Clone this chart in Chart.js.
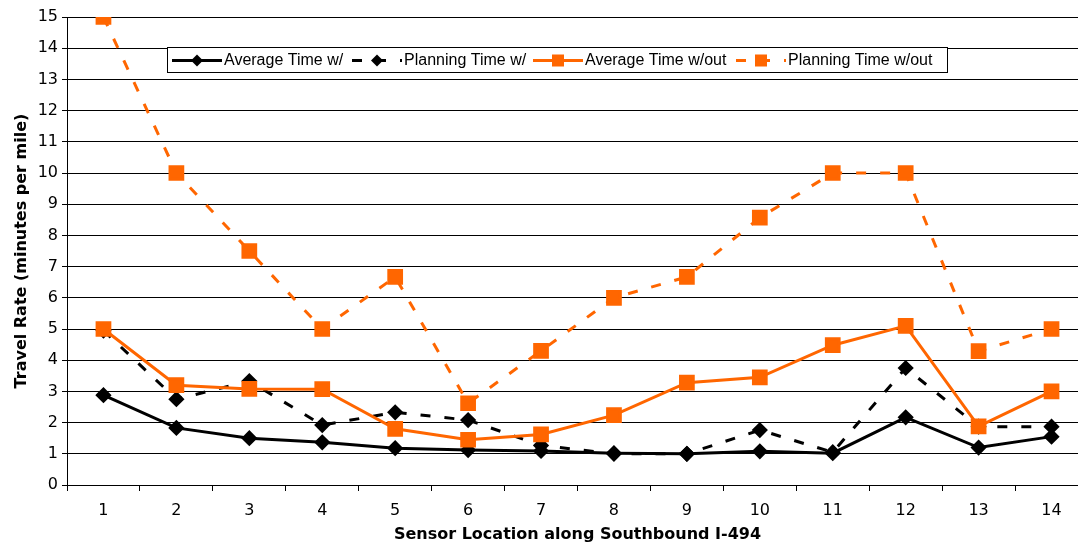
<!DOCTYPE html>
<html>
<head>
<meta charset="utf-8">
<script src="https://cdn.jsdelivr.net/npm/chart.js@4/dist/chart.umd.min.js"></script>
<style>
	html, body { margin: 0; padding: 0; background: #fff; overflow: hidden; }
	#wrap { width: 1100px; height: 544px; }
</style>
</head>
<body>
<div id="wrap"><canvas id="travel-chart" width="1100" height="544"></canvas></div>
<script>
const sensors = ['1', '2', '3', '4', '5', '6', '7', '8', '9', '10', '11', '12', '13', '14'];
const avgWith = [2.88, 1.83, 1.5, 1.37, 1.18, 1.12, 1.09, 1.02, 1.0, 1.08, 1.02, 2.17, 1.2, 1.55];
const planWith = [4.95, 2.75, 3.33, 1.92, 2.33, 2.08, 1.27, 1.0, 1.0, 1.76, 1.05, 3.75, 1.87, 1.87];
const avgWithout = [5.0, 3.2, 3.08, 3.07, 1.8, 1.45, 1.62, 2.24, 3.28, 3.45, 4.48, 5.1, 1.88, 3.0];
const planWithout = [15, 10, 7.5, 5, 6.67, 2.62, 4.3, 6.0, 6.67, 8.57, 10, 10, 4.29, 5];
const yTicks = [0, 1, 2, 3, 4, 5, 6, 7, 8, 9, 10, 11, 12, 13, 14, 15];

const orange = '#FF6600';
const axisFont = '"DejaVu Sans", Verdana, sans-serif';

// legend drawn by hand, so that each entry shows line + marker like the original
const boxLegend = {
	id: 'boxLegend',
	afterDraw(chart) {
		const ctx = chart.ctx;
		const x0 = 167, y0 = 47, w = 780, h = 25;
		ctx.save();
		ctx.fillStyle = '#fff';
		ctx.fillRect(x0, y0, w, h);
		ctx.strokeStyle = '#000';
		ctx.lineWidth = 1;
		ctx.strokeRect(x0 + 0.5, y0 + 0.5, w, h);
		ctx.font = '16px "Liberation Sans", Arial, sans-serif';
		ctx.textBaseline = 'middle';
		const starts = [172, 352, 533, 736];
		const cy = y0 + h / 2 + 1;
		chart.data.datasets.forEach((ds, i) => {
			const sx = starts[i];
			ctx.strokeStyle = ds.borderColor;
			ctx.lineWidth = 3;
			ctx.setLineDash(ds.borderDash || []);
			ctx.beginPath();
			ctx.moveTo(sx, cy);
			ctx.lineTo(sx + 50, cy);
			ctx.stroke();
			ctx.setLineDash([]);
			ctx.fillStyle = ds.pointBackgroundColor;
			const mx = sx + 25;
			if (ds.pointStyle === 'rect') {
				ctx.fillRect(mx - 6, cy - 6, 12, 12);
			} else {
				ctx.beginPath();
				ctx.moveTo(mx, cy - 6);
				ctx.lineTo(mx + 6, cy);
				ctx.lineTo(mx, cy + 6);
				ctx.lineTo(mx - 6, cy);
				ctx.closePath();
				ctx.fill();
			}
			ctx.fillStyle = '#000';
			ctx.fillText(ds.label, sx + 52, cy);
		});
		ctx.restore();
	}
};

new Chart(document.getElementById('travel-chart').getContext('2d'), {
	type: 'line',
	data: {
		labels: sensors,
		datasets: [{
				label: 'Average Time w/',
				data: avgWith,
				borderColor: '#000',
				backgroundColor: '#000',
				pointBackgroundColor: '#000',
				pointBorderColor: '#000',
				borderWidth: 3,
				pointStyle: 'rectRot',
				pointRadius: 6,
				order: 3
			},
			{
				label: 'Planning Time w/',
				data: planWith,
				borderColor: '#000',
				backgroundColor: '#000',
				pointBackgroundColor: '#000',
				pointBorderColor: '#000',
				borderWidth: 3,
				borderDash: [10, 14],
				pointStyle: 'rectRot',
				pointRadius: 6,
				order: 4
			},
			{
				label: 'Average Time w/out',
				data: avgWithout,
				borderColor: orange,
				backgroundColor: orange,
				pointBackgroundColor: orange,
				pointBorderColor: orange,
				borderWidth: 3,
				pointStyle: 'rect',
				pointRadius: 9,
				order: 1
			},
			{
				label: 'Planning Time w/out',
				data: planWithout,
				borderColor: orange,
				backgroundColor: orange,
				pointBackgroundColor: orange,
				pointBorderColor: orange,
				borderWidth: 3,
				borderDash: [10, 14],
				pointStyle: 'rect',
				pointRadius: 9,
				order: 2
			}
		]
	},
	options: {
		responsive: false,
		animation: false,
		layout: { padding: { top: 17, left: 12, right: 0, bottom: 0 } },
		plugins: {
			legend: { display: false },
			tooltip: { enabled: false }
		},
		scales: {
			x: {
				offset: true,
				grid: {
					display: true,
					offset: true,
					drawOnChartArea: false,
					drawTicks: true,
					tickLength: 6,
					color: '#000'
				},
				border: { color: '#000', width: 1 },
				ticks: {
					color: '#000',
					font: { family: axisFont, size: 16 },
					padding: 10
				},
				title: {
					display: true,
					text: 'Sensor Location along Southbound I-494',
					color: '#000',
					font: { family: axisFont, size: 16, weight: 'bold' },
					padding: { top: 4, bottom: 0 }
				},
				afterFit(scale) { scale.height = 59; }
			},
			y: {
				min: 0,
				max: 15,
				afterBuildTicks(scale) { scale.ticks = yTicks.map(v => ({ value: v })); },
				grid: {
					color: '#000',
					lineWidth: 1,
					drawTicks: true,
					tickLength: 5
				},
				border: { color: '#000', width: 1 },
				ticks: {
					color: '#000',
					font: { family: axisFont, size: 16 },
					padding: 4
				},
				title: {
					display: true,
					text: 'Travel Rate (minutes per mile)',
					color: '#000',
					font: { family: axisFont, size: 16, weight: 'bold' },
					padding: { top: 0, bottom: 4 }
				},
				afterFit(scale) { scale.width = 55; }
			}
		}
	},
	plugins: [boxLegend]
});
</script>
</body>
</html>
